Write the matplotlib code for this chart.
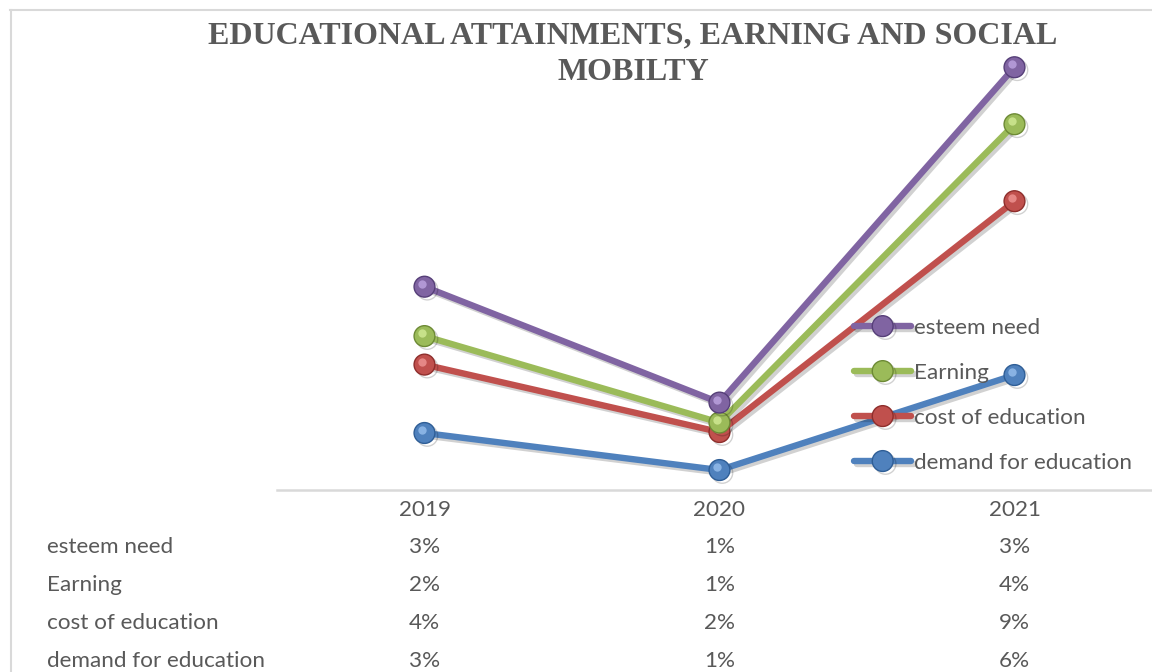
import numpy as np
import matplotlib
matplotlib.use("Agg")
import matplotlib.pyplot as plt
import matplotlib.patheffects as pe
from matplotlib.transforms import ScaledTranslation, blended_transform_factory
from matplotlib.lines import Line2D

# ---------------- data ----------------
years = ["2019", "2020", "2021"]
series_names = ["demand for education", "cost of education", "Earning", "esteem need"]
demand_for_education = [3.0, 1.05, 6.05]   # percent
cost_of_education = [3.6, 2.0, 9.15]
earning = [1.5, 0.5, 4.05]
esteem_need = [2.6, 1.05, 3.0]
title_lines = ["EDUCATIONAL ATTAINMENTS, EARNING AND SOCIAL", "MOBILTY"]

colors = ["#4F81BD", "#C0504D", "#9BBB59", "#8064A2"]
highlights = ["#9CC3F0", "#F29A98", "#D6EE9A", "#C2A9E6"]
edges = ["#2F5E96", "#8E2E2C", "#6D8A35", "#563F78"]

values = np.array([demand_for_education, cost_of_education, earning, esteem_need])
stacked = np.cumsum(values, axis=0)

FONT = ["Lato", "DejaVu Sans"]
FS = 16.2
GRAY = "#595959"

fig = plt.figure(figsize=(11.52, 6.72), dpi=100)
W, H = 1152, 672

def fx(px):
    return px / W

def fy(py):
    return 1 - py / H

# chart border (top & left)
fig.add_artist(Line2D([fx(10), 1], [fy(9.5), fy(9.5)], color="#D9D9D9", lw=1.5))
fig.add_artist(Line2D([fx(10.5), fx(10.5)], [fy(9.5), 0], color="#D9D9D9", lw=1.5))

# axes: x from 277 px to 1162 px, y baseline at 490 px, 19 px per percent
ymax = 25
left, right = 277, 1162
ax = fig.add_axes([fx(left), fy(490), (right - left) / W, ymax * 19 / H])
ax.set_xlim(-0.5, 2.5)
ax.set_ylim(0, ymax)
for s in ax.spines.values():
    s.set_visible(False)
ax.set_xticks([])
ax.set_yticks([])
ax.patch.set_alpha(0)
ax.axhline(0, color="#D9D9D9", lw=1.8, clip_on=False, zorder=1)

x = np.arange(len(years))
shadow = [pe.SimpleLineShadow(offset=(2, -2), shadow_color="black", alpha=0.18), pe.Normal()]
handles = []
for i, name in enumerate(series_names):
    ln, = ax.plot(x, stacked[i], color=colors[i], lw=4.6, marker="o", markersize=15,
                  markerfacecolor=colors[i], markeredgecolor=edges[i], markeredgewidth=1.0,
                  solid_capstyle="round", zorder=3 + i, label=name, clip_on=False,
                  path_effects=shadow)
    # highlight for a glossy sphere look
    off = ScaledTranslation(-2 / 72, 2 / 72, fig.dpi_scale_trans)
    ax.plot(x, stacked[i], ls="none", marker="o", markersize=6, markerfacecolor=highlights[i],
            markeredgewidth=0, alpha=0.75, transform=ax.transData + off, zorder=3.5 + i,
            clip_on=False)
    handles.append(ln)

# legend (reversed order like Excel stacked)
leg = fig.legend(handles[::-1], series_names[::-1], loc="upper left",
                 bbox_to_anchor=(fx(854), fy(318)), frameon=False,
                 prop={"family": FONT, "size": FS}, labelcolor=GRAY,
                 handlelength=2.55, handletextpad=0.1, labelspacing=1.11,
                 borderpad=0, borderaxespad=0)
for h in leg.legend_handles:
    h.set_markersize(15)

# title (two lines, Times-like bold)
for k, (line, yc) in enumerate(zip(title_lines, [35.5, 72])):
    fig.text(fx(633), fy(yc), line, ha="center", va="center", fontsize=23,
             fontweight="bold", family=["Liberation Serif", "DejaVu Serif"], color=GRAY)

# data table
tr = blended_transform_factory(ax.transData, fig.transFigure)
for j, yr in enumerate(years):
    ax.text(x[j], fy(510), yr, transform=tr, ha="center", va="center",
            fontsize=FS, family=FONT, color=GRAY)

row_order = series_names[::-1]
row_vals = values[::-1]
row_y = [547, 585, 623, 661]
for r, name in enumerate(row_order):
    fig.text(fx(47), fy(row_y[r]), name, ha="left", va="center", fontsize=FS,
             family=FONT, color=GRAY)
    for j in range(len(years)):
        lab = f"{int(row_vals[r][j] + 0.5)}%"
        ax.text(x[j], fy(row_y[r]), lab, transform=tr, ha="center", va="center",
                fontsize=FS, family=FONT, color=GRAY)

fig.savefig("out.png", dpi=100)
